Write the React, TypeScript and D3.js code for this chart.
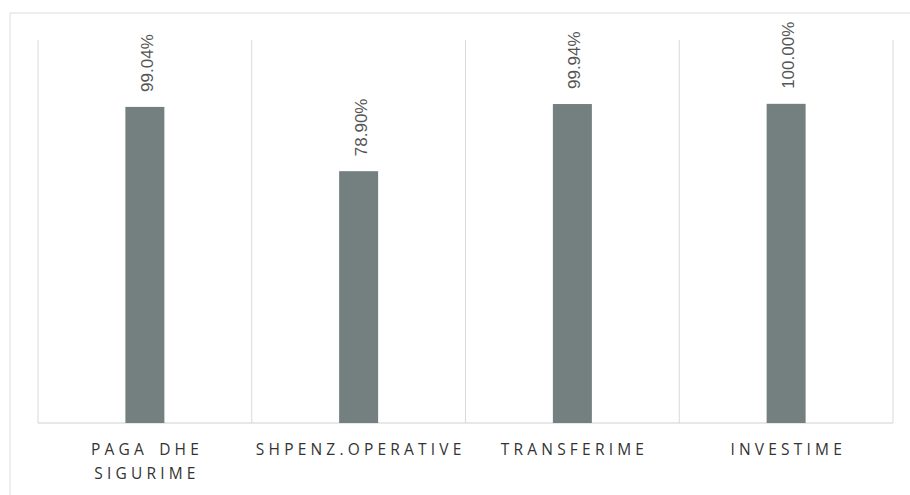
import React from "react";
import * as d3 from "d3";

const categories: string[][] = [["PAGA DHE", "SIGURIME"], ["SHPENZ.OPERATIVE"], ["TRANSFERIME"], ["INVESTIME"]];
const values: number[] = [99.04, 78.9, 99.94, 100.0];
const labels: string[] = ["99.04%", "78.90%", "99.94%", "100.00%"];

export default function App() {
  const W = 910, H = 495;
  const left = 38, right = 893, top = 40, bottom = 423;
  const x = d3.scaleBand<number>().domain(d3.range(values.length)).range([left, right]);
  const y = d3.scaleLinear().domain([0, 120]).range([bottom, top]);
  const bw = 39;
  const ls = 4.2;
  return (
    <svg width={W} height={H} style={{ position: "absolute", left: 0, top: 0 }}>
      <rect x={0} y={0} width={W} height={H} fill="#fff" />
      <rect x={10} y={13} width={W + 20} height={H} fill="none" stroke="#dedede" strokeWidth={1} />
      {d3.range(values.length + 1).map((i) => {
        const xx = i < values.length ? x(i)! : right;
        return <line key={i} x1={xx} x2={xx} y1={top} y2={bottom} stroke="#d9d9d9" strokeWidth={1} />;
      })}
      <line x1={left} x2={right} y1={bottom} y2={bottom} stroke="#d0d0d0" strokeWidth={1} />
      {values.map((v, i) => {
        const cx = x(i)! + x.bandwidth() / 2;
        return (
          <g key={i}>
            <rect x={cx - bw / 2} y={y(v)} width={bw} height={bottom - y(v)} fill="#748080" />
            <text
              transform={`translate(${cx + 8},${y(v) - 15}) rotate(-90)`}
              fontFamily="'Liberation Sans', Arial, sans-serif"
              fontSize={17}
              fill="#555"
            >
              {labels[i]}
            </text>
            {categories[i].map((t, j) => (
              <text
                key={j}
                x={cx + ls / 2}
                y={455 + j * 24}
                textAnchor="middle"
                fontFamily="'Open Sans', sans-serif"
                fontSize={15.5}
                letterSpacing={ls}
                wordSpacing={3}
                fill="#333"
              >
                {t}
              </text>
            ))}
          </g>
        );
      })}
    </svg>
  );
}
